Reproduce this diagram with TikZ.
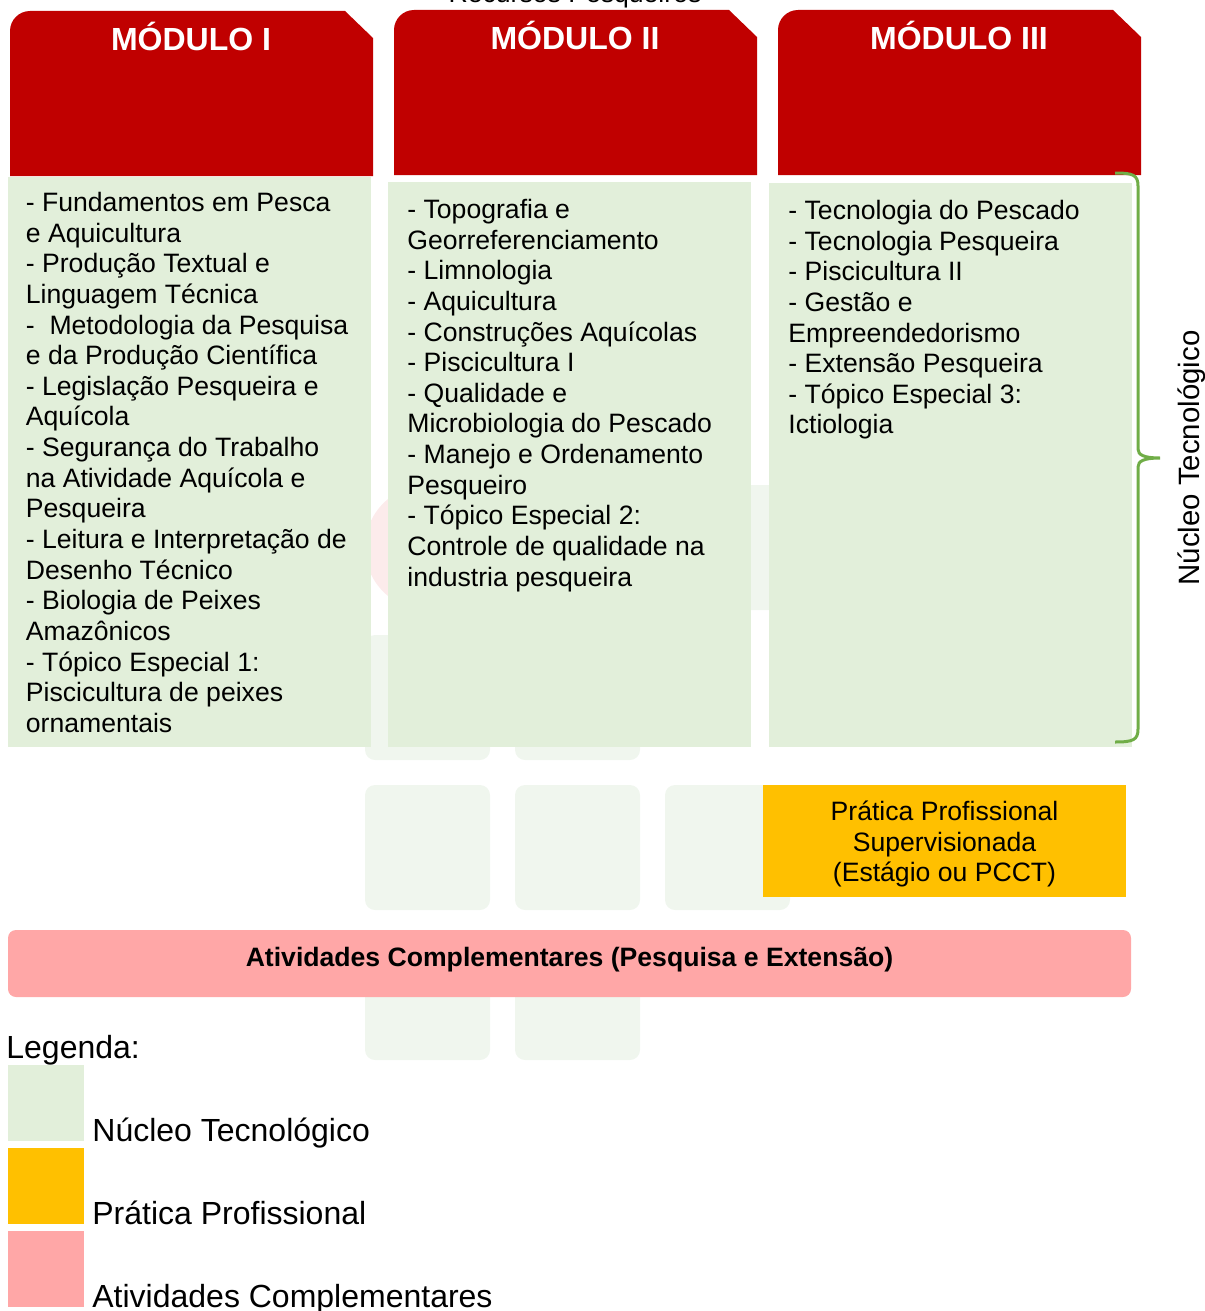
\documentclass[tikz,border=0pt]{standalone}
\usepackage{fontspec}
\setmainfont{Liberation Sans}
\usetikzlibrary{positioning}
\definecolor{modRed}{HTML}{C00000}
\definecolor{coreGreen}{HTML}{E2EFDA}
\definecolor{practiceGold}{HTML}{FFC000}
\definecolor{extraPink}{HTML}{FFA7A7}
\definecolor{braceGreen}{HTML}{70AD47}
\definecolor{markGreen}{HTML}{F0F6EE}
\definecolor{markRed}{HTML}{FCEBEB}
\tikzset{
    bodyFont/.style={font=\fontsize{13.3}{15.33}\selectfont},
    listText/.style={bodyFont, anchor=north west, inner sep=0pt, align=left},
    modTitle/.style={text=white, font=\fontsize{16}{19}\selectfont\bfseries, anchor=base, inner sep=0pt},
    legendText/.style={font=\fontsize{16}{19}\selectfont, anchor=base west, inner sep=0pt},
    markSquare/.style={fill=markGreen, rounded corners=5pt},
    braceLine/.style={draw=braceGreen, line width=1.5pt}
}
\tikzset{
    moduleHead/.pic={
        \fill[modRed] (0,165) -- (0,20) .. controls (0,9) and (9,0) .. (20,0) -- (335,0) -- (363,27) -- (363,165) -- cycle;
        \node[modTitle] (-title) at (181,40) {#1};
    }
}
\begin{document}
\begin{tikzpicture}[x=0.5pt, y=-0.5pt]
    \useasboundingbox (0,0) rectangle (1204,1311);
    \clip (0,0) rectangle (1204,1311);
    % faint logo in the back
    \fill[markRed] (427.5,547.5) circle (31.25pt);
    \foreach \cx/\cy in {515/485, 665/485, 365/635, 515/635, 365/785, 515/785, 665/785, 365/935, 515/935}
        \fill[markSquare] (\cx,\cy) rectangle ++(125,125);
    \node[bodyFont, anchor=base, inner sep=0pt] (course) at (575,3) {Recursos Pesqueiros};
    % modules
    \pic (h1) at (10,11) {moduleHead={MÓDULO I}};
    \pic (h2) at (394,10) {moduleHead={MÓDULO II}};
    \pic (h3) at (778,10) {moduleHead={MÓDULO III}};
    \fill[coreGreen] (8,177) rectangle (371,747);
    \fill[coreGreen] (388,182) rectangle (751,747);
    \fill[coreGreen] (769,183) rectangle (1132,747);
    \node[listText] (list1) at (25.5,189.5) {\strut- Fundamentos em Pesca\\e Aquicultura\\- Produção Textual e\\Linguagem Técnica\\-~ Metodologia da Pesquisa\\e da Produção Científica\\- Legislação Pesqueira e\\Aquícola\\- Segurança do Trabalho\\na Atividade Aquícola e\\Pesqueira\\- Leitura e Interpretação de\\Desenho Técnico\\- Biologia de Peixes\\Amazônicos\\- Tópico Especial 1:\\Piscicultura de peixes\\ornamentais};
    \node[listText] (list2) at (407,196.5) {\strut- Topografia e\\Georreferenciamento\\- Limnologia\\- Aquicultura\\- Construções Aquícolas\\- Piscicultura I\\- Qualidade e\\Microbiologia do Pescado\\- Manejo e Ordenamento\\Pesqueiro\\- Tópico Especial 2:\\Controle de qualidade na\\industria pesqueira};
    \node[listText] (list3) at (788,197.5) {\strut- Tecnologia do Pescado\\- Tecnologia Pesqueira\\- Piscicultura II\\- Gestão e\\Empreendedorismo\\- Extensão Pesqueira\\- Tópico Especial 3:\\Ictiologia};
    % brace for the core
    \coordinate (braceTop) at (1115,173);
    \coordinate (braceBot) at (1115,742);
    \coordinate (braceTip) at (1160,458);
    \draw[braceLine] (braceTop) .. controls (1133,173) and (1138,175) .. (1138,186)
        -- (1138,449) .. controls (1138,455) and (1144,458) .. (braceTip)
        .. controls (1144,458) and (1138,461) .. (1138,467)
        -- (1138,729) .. controls (1138,740) and (1133,742) .. (braceBot);
    \node[font=\fontsize{14.7}{17}\selectfont, rotate=90, anchor=base, inner sep=0pt] (coreLabel) at (1199,458) {Núcleo Tecnológico};
    % practice and extra activities
    \fill[practiceGold] (763,785) rectangle (1126,897);
    \node[bodyFont, anchor=north, inner sep=0pt, align=center] (practice) at (944.5,798.5) {\strut Prática Profissional\\Supervisionada\\(Estágio ou PCCT)};
    \fill[extraPink, rounded corners=4pt] (8,930) rectangle (1131,997);
    \node[bodyFont, font=\fontsize{13.3}{15.33}\selectfont\bfseries, anchor=base, inner sep=0pt] (extra) at (569.5,966) {Atividades Complementares (Pesquisa e Extensão)};
    % legend
    \node[legendText] (legendHead) at (6,1058) {Legenda:};
    \fill[coreGreen] (8,1065) rectangle (84,1141);
    \fill[practiceGold] (8,1148) rectangle (84,1224);
    \fill[extraPink] (8,1231) rectangle (84,1307);
    \node[legendText] (legCore) at (92,1141) {Núcleo Tecnológico};
    \node[legendText] (legPractice) at (92,1224) {Prática Profissional};
    \node[legendText] (legExtra) at (92,1307) {Atividades Complementares};
\end{tikzpicture}
\end{document}
